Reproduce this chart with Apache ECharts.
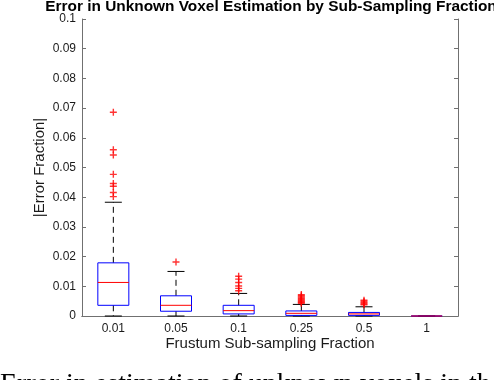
<!DOCTYPE html>
<html>
<head>
<meta charset="utf-8">
<script src="https://cdn.jsdelivr.net/npm/echarts@6/dist/echarts.min.js"></script>
<style>
  html, body { margin: 0; padding: 0; background: #fff; overflow: hidden; }
  #main { width: 494px; height: 380px; }
</style>
</head>
<body>
<div id="main"></div>
<script>
// sub-sampling fractions
var categories = ['0.01', '0.05', '0.1', '0.25', '0.5', '1'];
// box statistics, one value per category
var lowerWhisker = [0, 0, 0, 0, 0, 0];
var q1 = [0.0036, 0.0016, 0.0007, 0.0002, 0.0002, 0];
var median = [0.0113, 0.0036, 0.0018, 0.0009, 0.0007, 0];
var q3 = [0.0179, 0.0068, 0.0036, 0.0017, 0.0012, 0];
var upperWhisker = [0.0383, 0.0150, 0.0076, 0.0039, 0.0031, 0];
// outliers (red +)
var outliers001 = [0.0686, 0.0560, 0.0542, 0.0477, 0.0446, 0.0437, 0.0416, 0.0402];
var outliers005 = [0.0182];
var outliers01 = [0.0134, 0.0124, 0.0113, 0.0101, 0.0093, 0.0085];
var outliers025 = [0.0072, 0.0068, 0.0064, 0.0060, 0.0056, 0.0052, 0.0049, 0.0046, 0.0043];
var outliers05 = [0.0053, 0.0049, 0.0045, 0.0041, 0.0038];
var outliers1 = [];

var boxData = categories.map(function (c, i) {
  return [i, lowerWhisker[i], q1[i], median[i], q3[i], upperWhisker[i]];
});
var outlierData = [];
[outliers001, outliers005, outliers01, outliers025, outliers05, outliers1].forEach(function (arr, i) {
  arr.forEach(function (v) { outlierData.push([i, v]); });
});

var axisGray = '#707070';
var textColor = '#1a1a1a';
var font = 'Liberation Sans, Arial, sans-serif';
var BOX_W = 31, CAP_W = 17;

function renderBox(params, api) {
  var i = api.value(0);
  var pMin = api.coord([i, api.value(1)]);
  var pQ1 = api.coord([i, api.value(2)]);
  var pMed = api.coord([i, api.value(3)]);
  var pQ3 = api.coord([i, api.value(4)]);
  var pMax = api.coord([i, api.value(5)]);
  var x = pMed[0];
  var dash = { stroke: '#000', lineWidth: 1, lineDash: [6, 4] };
  var solid = { stroke: '#000', lineWidth: 1 };
  return {
    type: 'group',
    children: [
      { type: 'line', shape: { x1: x, y1: pQ3[1], x2: x, y2: pMax[1] }, style: dash },
      { type: 'line', shape: { x1: x, y1: pQ1[1], x2: x, y2: pMin[1] }, style: dash },
      { type: 'line', shape: { x1: x - CAP_W / 2, y1: pMax[1], x2: x + CAP_W / 2, y2: pMax[1] }, style: solid },
      { type: 'line', shape: { x1: x - CAP_W / 2, y1: pMin[1], x2: x + CAP_W / 2, y2: pMin[1] }, style: solid },
      { type: 'rect', shape: { x: x - BOX_W / 2, y: pQ3[1], width: BOX_W, height: pQ1[1] - pQ3[1] },
        style: { fill: 'none', stroke: '#0000ff', lineWidth: 1 } },
      { type: 'line', shape: { x1: x - BOX_W / 2, y1: pMed[1], x2: x + BOX_W / 2, y2: pMed[1] },
        style: { stroke: '#ff0000', lineWidth: 1 } }
    ]
  };
}

var chart = echarts.init(document.getElementById('main'), null, { renderer: 'canvas' });
chart.setOption({
  animation: false,
  backgroundColor: '#fff',
  grid: { left: 82, right: 36, top: 19, bottom: 64 },
  xAxis: [{
    type: 'category', data: categories, position: 'bottom',
    name: 'Frustum Sub-sampling Fraction', nameLocation: 'middle', nameGap: 20,
    nameMoveOverlap: false,
    nameTextStyle: { fontFamily: font, fontSize: 15, color: textColor },
    axisLine: { lineStyle: { color: axisGray, width: 1 } },
    axisTick: { inside: true, alignWithLabel: true, length: 4, lineStyle: { color: axisGray } },
    axisLabel: { fontFamily: font, fontSize: 12, color: textColor, margin: 7 },
    splitLine: { show: false }
  }, {
    type: 'category', data: categories, position: 'top',
    axisLine: { lineStyle: { color: axisGray, width: 1 } },
    axisTick: { inside: true, alignWithLabel: true, length: 4, lineStyle: { color: axisGray } },
    axisLabel: { show: false }
  }],
  yAxis: [{
    type: 'value', min: 0, max: 0.1, interval: 0.01, position: 'left',
    name: '|Error Fraction|', nameLocation: 'middle', nameGap: 35,
    nameMoveOverlap: false,
    nameTextStyle: { fontFamily: font, fontSize: 15, color: textColor },
    axisLine: { show: true, lineStyle: { color: axisGray, width: 1 } },
    axisTick: { show: true, inside: true, length: 4, lineStyle: { color: axisGray } },
    axisLabel: {
      fontFamily: font, fontSize: 12, color: textColor, margin: 6,
      formatter: function (v) { return String(Math.round(v * 100) / 100); }
    },
    splitLine: { show: false }
  }, {
    type: 'value', min: 0, max: 0.1, interval: 0.01, position: 'right',
    axisLine: { show: true, lineStyle: { color: axisGray, width: 1 } },
    axisTick: { show: true, inside: true, length: 4, lineStyle: { color: axisGray } },
    axisLabel: { show: false },
    splitLine: { show: false }
  }],
  series: [{
    type: 'custom',
    xAxisIndex: 0, yAxisIndex: 0,
    renderItem: renderBox,
    encode: { x: 0, y: [1, 2, 3, 4, 5] },
    data: boxData,
    z: 2
  }, {
    type: 'scatter',
    xAxisIndex: 0, yAxisIndex: 0,
    symbol: 'path://M-0.2,-1H0.2V-0.2H1V0.2H0.2V1H-0.2V0.2H-1V-0.2H-0.2Z',
    symbolSize: 7,
    itemStyle: { color: '#ff0000' },
    data: outlierData,
    z: 3
  }],
  graphic: [{
    // title, stretched a little to match the original's wider Helvetica
    type: 'text', x: 271, y: 7.5, scaleX: 1.1,
    style: {
      text: 'Error in Unknown Voxel Estimation by Sub-Sampling Fraction',
      font: 'bold 14px "Liberation Sans", Arial, sans-serif',
      fill: '#000', align: 'center', verticalAlign: 'middle'
    }
  }, {
    type: 'text', left: 0, top: 371,
    style: {
      text: 'Error in estimation of unknown voxels in the',
      font: '28px "Liberation Serif", "Times New Roman", serif',
      fill: '#000'
    }
  }]
});
</script>
</body>
</html>
